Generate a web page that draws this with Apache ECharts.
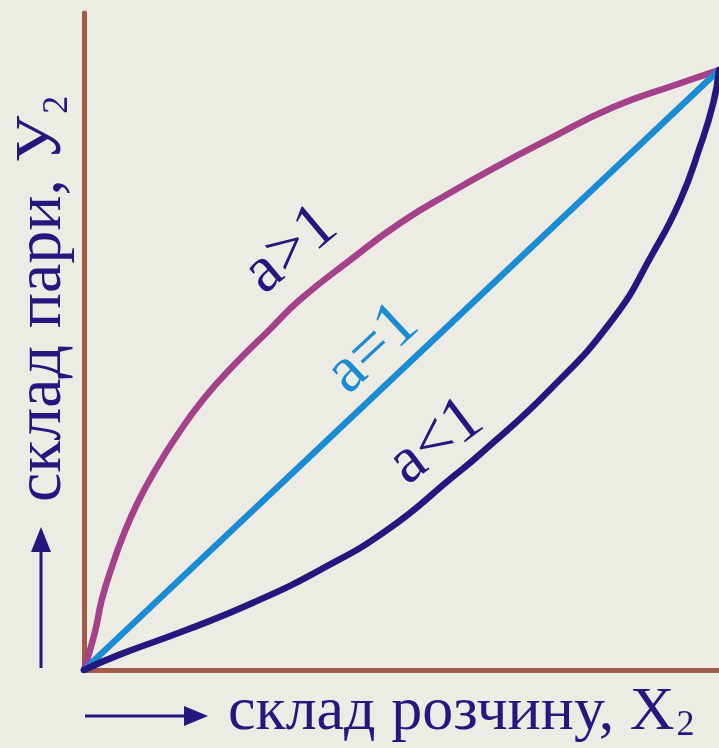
<!DOCTYPE html>
<html>
<head>
<meta charset="utf-8">
<script src="https://cdn.jsdelivr.net/npm/echarts@6/dist/echarts.min.js"></script>
<style>
html, body { margin: 0; padding: 0; background: #edece4; }
#chart { width: 719px; height: 748px; }
</style>
</head>
<body>
<div id="chart"></div>
<script>
// composition of liquid (x) and vapour (y)
var xHigh = [0, 0.017, 0.028, 0.044, 0.061, 0.085, 0.115, 0.146, 0.187, 0.235, 0.293, 0.340, 0.419, 0.498, 0.576, 0.655, 0.729, 0.833, 0.939, 1]
var yHigh = [0, 0.062, 0.117, 0.172, 0.222, 0.280, 0.338, 0.390, 0.450, 0.507, 0.568, 0.617, 0.683, 0.745, 0.795, 0.842, 0.883, 0.938, 0.978, 1]
var xOne = [0, 1]
var yOne = [0, 1]
var xLow = [0, 0.057, 0.162, 0.266, 0.372, 0.477, 0.581, 0.624, 0.729, 0.833, 0.896, 0.939, 0.970, 0.991, 1]
var yLow = [0, 0.026, 0.067, 0.112, 0.167, 0.233, 0.322, 0.360, 0.462, 0.585, 0.695, 0.783, 0.872, 0.945, 1]
var curveNames = ['a>1', 'a=1', 'a<1']
var xTitle = 'склад розчину, Х'
var yTitle = 'склад пари, У'
var yMax = 1.095

function pairs (xs, ys) {
  return xs.map(function (x, i) { return [x, ys[i]] })
}

var ink = '#24187e'
var font = '"Liberation Serif", "DejaVu Serif", serif'

var chart = echarts.init(document.getElementById('chart'))

function curve (name, data, color) {
  return {
    name: name,
    type: 'line',
    data: data,
    smooth: true,
    showSymbol: false,
    silent: true,
    lineStyle: { width: 6.5, color: color, cap: 'round' }
  }
}

chart.setOption({
  backgroundColor: '#edece4',
  animation: false,
  grid: { left: 84, right: 0, top: 13, bottom: 78 },
  xAxis: {
    type: 'value', min: 0, max: 1,
    axisLine: { lineStyle: { color: '#a05c49', width: 5 } },
    axisTick: { show: false }, axisLabel: { show: false }, splitLine: { show: false }
  },
  yAxis: {
    type: 'value', min: 0, max: yMax,
    axisLine: { show: true, lineStyle: { color: '#a05c49', width: 5 } },
    axisTick: { show: false }, axisLabel: { show: false }, splitLine: { show: false }
  },
  series: [
    curve(curveNames[0], pairs(xHigh, yHigh), '#a4418a'),
    curve(curveNames[1], pairs(xOne, yOne), '#1b8cd3'),
    curve(curveNames[2], pairs(xLow, yLow), '#24187e')
  ]
})

// curve labels placed in data coordinates
var labelSpots = [[0.326, 0.70, 40, ink], [0.455, 0.535, 43, '#1b8cd3'], [0.555, 0.38, 37, ink]]
var graphics = labelSpots.map(function (s, i) {
  var p = chart.convertToPixel({ gridIndex: 0 }, [s[0], s[1]])
  return {
    type: 'text', x: p[0], y: p[1], rotation: s[2] * Math.PI / 180,
    style: { text: curveNames[i], fill: s[3], font: '66px ' + font, align: 'center', verticalAlign: 'middle' }
  }
})

var sub = { fontSize: 36, fontFamily: font, fill: ink, verticalAlign: 'bottom', padding: [0, 0, 0, 2] }

graphics.push({
  type: 'text', x: 228, y: 713,
  style: { text: '{t|' + xTitle + '}{s|2}', align: 'left', verticalAlign: 'middle',
    rich: { t: { fontSize: 62, fontFamily: font, fill: ink }, s: sub } }
})
graphics.push({
  type: 'text', x: 43, y: 502, rotation: Math.PI / 2,
  style: { text: '{t|' + yTitle + '}{s|2}', align: 'left', verticalAlign: 'middle',
    rich: { t: { fontSize: 66, fontFamily: font, fill: ink }, s: sub } }
})
// arrows next to the axis titles
graphics.push({
  type: 'line', shape: { x1: 85, y1: 716, x2: 190, y2: 716 }, style: { stroke: ink, lineWidth: 3 }
})
graphics.push({
  type: 'polygon', shape: { points: [[208, 716], [184, 706], [184, 726]] }, style: { fill: ink }
})
graphics.push({
  type: 'line', shape: { x1: 41, y1: 668, x2: 41, y2: 548 }, style: { stroke: ink, lineWidth: 3 }
})
graphics.push({
  type: 'polygon', shape: { points: [[41, 527], [31, 552], [51, 552]] }, style: { fill: ink }
})

chart.setOption({ graphic: graphics })
</script>
</body>
</html>
